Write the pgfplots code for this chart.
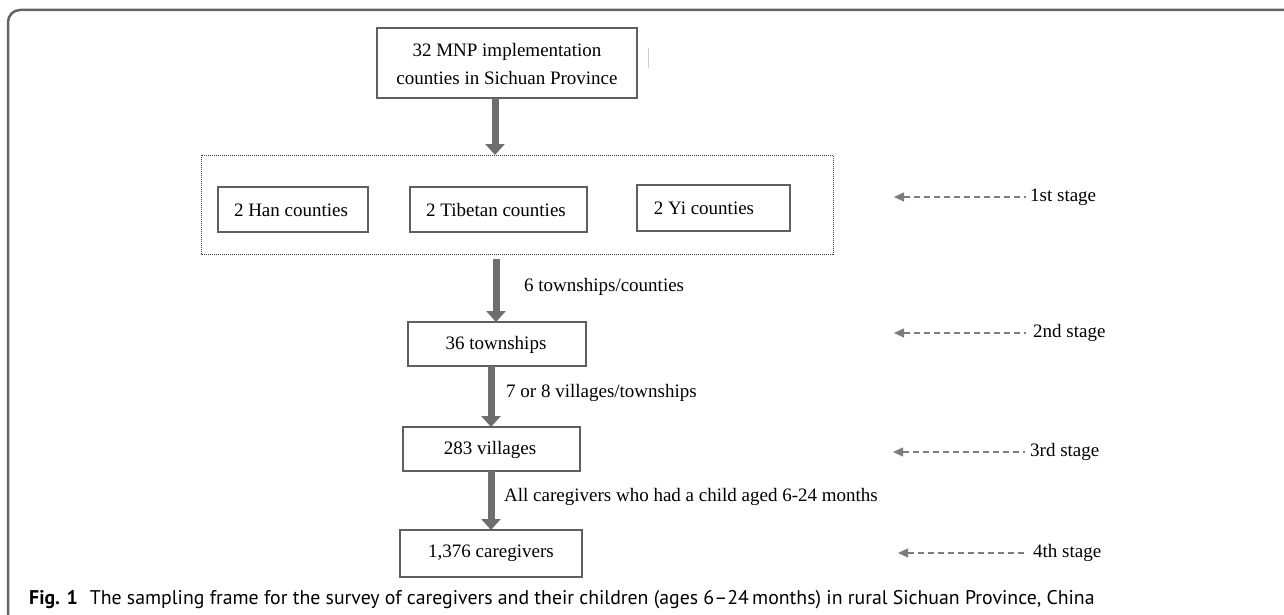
\documentclass[border=0pt]{standalone}
\usepackage{pgfplots}
\pgfplotsset{compat=1.18}
\usepackage{fontspec}
\setmainfont{Liberation Serif}
\newfontfamily\capfont{PT Sans}
\usetikzlibrary{arrows.meta}
\definecolor{boxc}{RGB}{95,95,95}
\definecolor{arrc}{RGB}{110,110,110}
\definecolor{stc}{RGB}{125,125,125}
\definecolor{framec}{RGB}{100,100,100}
\begin{document}
\begin{tikzpicture}
\begin{axis}[width=1284pt,height=615pt,scale only axis,
  xmin=0,xmax=1284,ymin=0,ymax=615,y dir=reverse,hide axis,clip=false]
% frame
\draw[line width=2.5pt,framec,rounded corners=12pt] (1284,10) -- (8,10) -- (8,615);
% stray mark
\draw[black!20,line width=1pt] (648,48) -- (648,68);
\tikzset{bx/.style={boxc,line width=1.8pt},
  tx/.style={font=\fontsize{19}{28.5}\selectfont,align=center,inner sep=0pt},
  lb/.style={font=\fontsize{19}{28}\selectfont,anchor=west,inner sep=0pt},
  bigarr/.style={arrc,line width=7pt,-{Triangle[width=19pt,length=11pt]}},
  starr/.style={stc,line width=1.1pt,dash pattern=on 6pt off 4pt,{Triangle[width=9pt,length=10pt]}-}}
% top box
\draw[bx] (377,28) rectangle (637,98);
\node[tx] at (507,64) {32 MNP implementation\\counties in Sichuan Province};
% arrow 1
\draw[bigarr] (495,98) -- (495,155);
% dotted group
\draw[black!75,line width=1pt,dash pattern=on 1pt off 1pt] (201,155) rectangle (833,254);
\draw[bx] (218,187) rectangle (368,232);
\node[tx] at (291,210) {2 Han counties};
\draw[bx] (410,187) rectangle (587,232);
\node[tx] at (496,210) {2 Tibetan counties};
\draw[bx] (637,185) rectangle (790,231);
\node[tx] at (704,208) {2 Yi counties};
% arrow 2
\draw[bigarr] (496,259) -- (496,322);
\node[lb] at (524,287) {6 townships/counties};
\draw[bx] (408,322) rectangle (586,366);
\node[tx] at (496,345) {36 townships};
% arrow 3
\draw[bigarr] (491,366) -- (491,427);
\node[lb] at (506,393) {7 or 8 villages/townships};
\draw[bx] (403,427) rectangle (580,471);
\node[tx] at (490,450) {283 villages};
% arrow 4
\draw[bigarr] (491,471) -- (491,530);
\node[lb] at (504,497) {All caregivers who had a child aged 6-24 months};
\draw[bx] (400,530) rectangle (582,577);
\node[tx] at (491,553) {1,376 caregivers};
% stage labels
\draw[starr] (894,197) -- (1026,197);
\node[lb] at (1030,197) {1st stage};
\draw[starr] (894,333) -- (1026,333);
\node[lb] at (1033,333) {2nd stage};
\draw[starr] (893,452) -- (1025,452);
\node[lb] at (1030,452) {3rd stage};
\draw[starr] (898,553) -- (1027,553);
\node[lb] at (1033,553) {4th stage};
% caption
\node[anchor=west,inner sep=0pt,font=\capfont\fontsize{19.8}{22}\selectfont] at (29,600)
  {\textbf{Fig. 1}\hspace{0.6em}The sampling frame for the survey of caregivers and their children (ages 6–24\,months) in rural Sichuan Province, China};
\end{axis}
\pgfresetboundingbox
\useasboundingbox (current axis.south west) rectangle (current axis.north east);
\end{tikzpicture}
\end{document}
